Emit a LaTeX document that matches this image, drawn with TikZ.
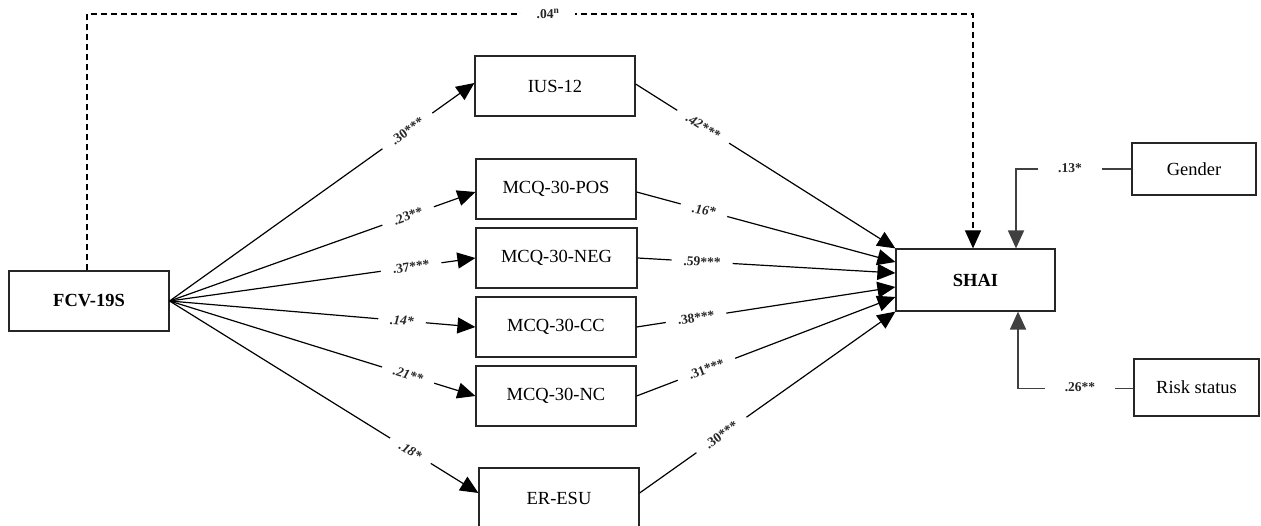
\documentclass[tikz,border=0pt]{standalone}
\usepackage{fontspec}
\setmainfont{Liberation Serif}
\usetikzlibrary{arrows.meta,calc}
\begin{document}
\begin{tikzpicture}[x=1pt,y=-1pt,
  box/.style={draw=black!85,line width=1.2pt,rectangle,minimum width=160pt,minimum height=60pt,inner sep=0pt,font=\fontsize{18.5}{20}\selectfont},
  conn/.style={line width=1.2pt,-{Triangle[length=18pt,width=16pt]}},
  lbl/.style={fill=white,inner xsep=12pt,inner ysep=0pt,font=\fontsize{13.5}{14}\selectfont\bfseries,text=black!85},
  ilbl/.style={lbl,font=\fontsize{13.5}{14}\selectfont\bfseries\itshape},
  ctrl/.style={line width=1.8pt,draw=black!75,-{Triangle[length=18pt,width=16pt]}},
  dsh/.style={line width=1.1pt,dash pattern=on 6pt off 4pt,-{Triangle[length=18pt,width=16pt]}}
]
\useasboundingbox (0,0) rectangle (1261,526);
\clip (0,0) rectangle (1261,526);

% nodes
\node[box,font=\fontsize{18.5}{20}\selectfont\bfseries] (fcv) at (89,301) {FCV-19S};
\node[box] (ius) at (555,86) {IUS-12};
\node[box] (pos) at (556,189) {MCQ-30-POS};
\node[box,minimum width=161pt] (neg) at (556.5,258) {MCQ-30-NEG};
\node[box] (cc) at (556,327) {MCQ-30-CC};
\node[box] (nc) at (556,396) {MCQ-30-NC};
\node[box] (eresu) at (559,498) {ER-ESU};
\node[box,font=\fontsize{18.5}{20}\selectfont\bfseries,minimum width=159pt,minimum height=62pt] (shai) at (975.5,280) {SHAI};
\node[box,minimum width=124pt,minimum height=52pt] (gender) at (1194,169) {Gender};
\node[box,minimum width=125pt,minimum height=57pt] (risk) at (1196.5,387.5) {Risk status};

% FCV to mediators
\draw[conn] (fcv.east) -- node[lbl,pos=0.78,sloped] {.30***} ($(ius.west)+(0,-3)$);
\draw[conn] (fcv.east) -- node[lbl,pos=0.78,sloped] {.23**} ($(pos.west)+(0,3)$);
\draw[conn] (fcv.east) -- node[lbl,pos=0.79,sloped] {.37***} (neg.west);
\draw[conn] (fcv.east) -- node[ilbl,pos=0.76,sloped] {.14*} (cc.west);
\draw[conn] (fcv.east) -- node[ilbl,pos=0.78,sloped] {.21**} (nc.west);
\draw[conn] (fcv.east) -- node[ilbl,pos=0.78,sloped] {.18*} ($(eresu.west)+(0,-5)$);

% mediators to SHAI
\draw[conn] ($(ius.east)+(0,-2)$) -- node[ilbl,pos=0.26,sloped] {.42***} (shai.north west);
\draw[conn] ($(pos.east)+(0,3)$) -- node[ilbl,pos=0.26,rotate=-8] {.16*} ($(shai.west)+(0,-18)$);
\draw[conn] (neg.east) -- node[lbl,pos=0.25,sloped] {.59***} ($(shai.west)+(0,-7)$);
\draw[conn] (cc.east) -- node[lbl,pos=0.23,sloped] {.38***} ($(shai.west)+(0,7)$);
\draw[conn] (nc.east) -- node[lbl,pos=0.27,sloped] {.31***} ($(shai.west)+(0,17)$);
\draw[conn] ($(eresu.east)+(0,-5)$) -- node[lbl,pos=0.32,sloped] {.30***} (shai.south west);

% direct effect (dashed)
\coordinate (dtop) at (548,14);
\draw[dsh] ($(fcv.north)+(-2,0)$) |- (dtop) -| ($(shai.north)+(-2.5,0)$);
\node[lbl,inner xsep=16pt] (dl) at (dtop) {.04\textsuperscript{n}};

% covariates
\draw[ctrl] (gender.west) -| ($(shai.north)+(40.5,0)$);
\node[lbl,inner xsep=20pt] (gl) at (1070,168) {.13*};
\draw[ctrl] ($(risk.west)+(0,1)$) -| ($(shai.south)+(42.5,0)$);
\node[lbl,inner xsep=20pt] (rl) at (1080,387) {.26**};
\end{tikzpicture}
\end{document}
